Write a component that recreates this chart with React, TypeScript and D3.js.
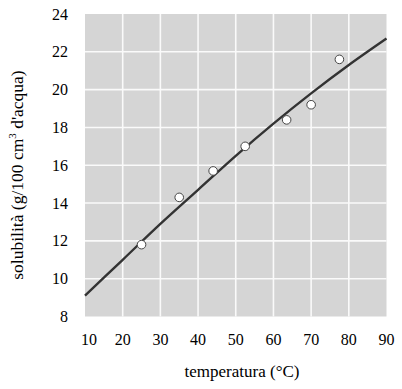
import React, { useEffect, useRef } from "react"
import * as d3 from "d3"

// measured points (temperature °C, solubility g/100 cm3)
const pointTemps = [25, 35, 44, 52.5, 63.5, 70, 77.5]
const pointSolub = [11.8, 14.3, 15.7, 17.0, 18.4, 19.2, 21.6]

// fitted curve
const curveTemps = [10, 20, 30, 40, 50, 60, 70, 80, 90]
const curveSolub = [9.1, 11.0, 12.9, 14.7, 16.5, 18.2, 19.8, 21.3, 22.7]

const xTicks = [10, 20, 30, 40, 50, 60, 70, 80, 90]
const yTicks = [8, 10, 12, 14, 16, 18, 20, 22, 24]

export default function App() {
  const ref = useRef(null)

  useEffect(() => {
    const svg = d3.select(ref.current)
    svg.selectAll("*").remove()
    const font = "'Liberation Serif', 'Times New Roman', serif"

    const x = d3.scaleLinear().domain([10, 90]).range([85, 386.5])
    const y = d3.scaleLinear().domain([8, 24]).range([316.5, 14])

    svg.append("rect")
      .attr("x", x(10)).attr("y", y(24))
      .attr("width", x(90) - x(10)).attr("height", y(8) - y(24))
      .attr("fill", "#d5d5d5")

    // grid
    svg.selectAll(".vgrid")
      .data(xTicks.slice(1, -1))
      .enter().append("line")
      .attr("x1", d => x(d)).attr("x2", d => x(d))
      .attr("y1", y(24)).attr("y2", y(8))
      .attr("stroke", "#fafafa").attr("stroke-width", 1.6)
    svg.selectAll(".hgrid")
      .data(yTicks.slice(1, -1))
      .enter().append("line")
      .attr("y1", d => y(d)).attr("y2", d => y(d))
      .attr("x1", x(10)).attr("x2", x(90))
      .attr("stroke", "#fafafa").attr("stroke-width", 1.6)

    // tick labels
    svg.selectAll(".xt")
      .data(xTicks)
      .enter().append("text")
      .attr("x", d => x(d) + (d === 10 ? 4 : 0))
      .attr("y", 345)
      .attr("text-anchor", "middle")
      .style("font-family", font).style("font-size", "16px")
      .text(d => d)
    svg.selectAll(".yt")
      .data(yTicks)
      .enter().append("text")
      .attr("x", 68)
      .attr("y", d => y(d) + 5.5)
      .attr("text-anchor", "end")
      .style("font-family", font).style("font-size", "16px")
      .text(d => d)

    // axis titles
    svg.append("text")
      .attr("x", 242).attr("y", 377)
      .attr("text-anchor", "middle")
      .style("font-family", font).style("font-size", "17px")
      .text("temperatura (°C)")

    const yt = svg.append("text")
      .attr("transform", "translate(23,175) rotate(-90)")
      .attr("text-anchor", "middle")
      .style("font-family", font).style("font-size", "17.5px")
    yt.append("tspan").text("solubilità (g/100 cm")
    yt.append("tspan").attr("dy", -7).style("font-size", "11px").text("3")
    yt.append("tspan").attr("dy", 7).text(" d'acqua)")

    // curve
    const curve = curveTemps.map((t, i) => [t, curveSolub[i]])
    const line = d3.line()
      .x(d => x(d[0])).y(d => y(d[1]))
      .curve(d3.curveMonotoneX)
    svg.append("path")
      .datum(curve)
      .attr("d", line)
      .attr("fill", "none")
      .attr("stroke", "#333")
      .attr("stroke-width", 2.4)

    // points
    svg.selectAll(".pt")
      .data(pointTemps.map((t, i) => [t, pointSolub[i]]))
      .enter().append("circle")
      .attr("cx", d => x(d[0])).attr("cy", d => y(d[1]))
      .attr("r", 4.3)
      .attr("fill", "#fff")
      .attr("stroke", "#444")
      .attr("stroke-width", 1)
  }, [])

  return (
    <svg
      ref={ref}
      width={402}
      height={389}
      style={{ position: "absolute", left: 0, top: 0, background: "#fff" }}
    ></svg>
  )
}
